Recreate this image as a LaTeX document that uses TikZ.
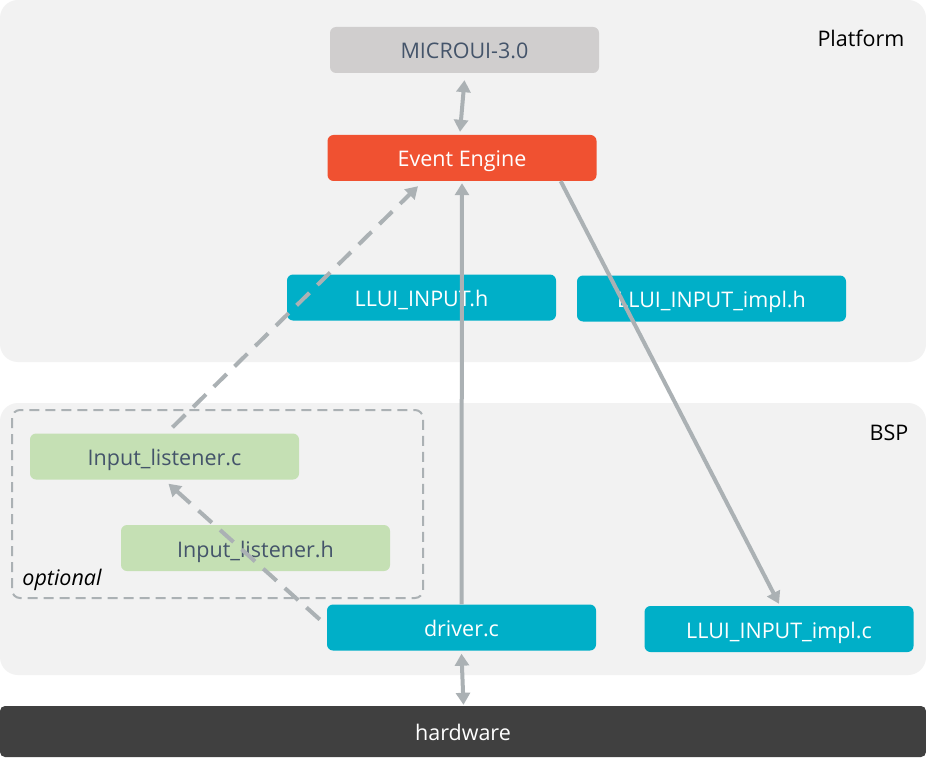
\documentclass[tikz,border=0pt]{standalone}
\usepackage{fontspec}
\setmainfont{Open Sans}
\usetikzlibrary{arrows.meta}
\definecolor{panelbg}{HTML}{F2F2F2}
\definecolor{arrgray}{HTML}{ABB1B4}
\definecolor{teal}{HTML}{00AFC8}
\definecolor{orng}{HTML}{F05131}
\definecolor{lgreen}{HTML}{C5E0B4}
\definecolor{lgray}{HTML}{D0CECE}
\definecolor{hwgray}{HTML}{404040}
\definecolor{slate}{HTML}{44546A}
\tikzset{
  x=1pt, y=-1pt,
  panel/.style={fill=panelbg, rounded corners=18pt, draw=none},
  box/.style={rectangle, rounded corners=6pt, minimum width=269pt, minimum height=46pt, inner sep=0pt, text height=19pt, text depth=1pt, font=\fontsize{21.5}{25}\selectfont},
  tealbox/.style={box, fill=teal, text=white},
  greenbox/.style={box, fill=lgreen, text=slate},
  arr/.style={draw=arrgray, line width=4pt, -{Triangle[length=12pt,width=14pt]}},
  darr/.style={draw=arrgray, line width=4pt, {Triangle[length=12pt,width=14pt]}-{Triangle[length=12pt,width=14pt]}},
  dasharr/.style={arr, dash pattern=on 18pt off 11pt},
  plabel/.style={font=\fontsize{21.5}{25}\selectfont, text=black, inner sep=0pt}
}
\begin{document}
\begin{tikzpicture}
\useasboundingbox (0,0) rectangle (926,762);
\fill[white] (0,0) rectangle (926,762);
% panels
\fill[panelbg, rounded corners=18pt] (0,0) rectangle (926,362);
\fill[panelbg, rounded corners=18pt] (0,403) rectangle (926,675);
\node[plabel] (plat) at (861,38) {Platform};
\node[plabel] (bsp) at (889,433) {BSP};
% optional dashed box
\draw[arrgray, line width=2pt, dash pattern=on 10pt off 6pt, rounded corners=8pt] (12,410) rectangle (423,598);
\node[plabel, font=\fontsize{21.5}{25}\selectfont\itshape] (opt) at (62,580) {optional};
% nodes
\node[box, fill=lgray, text=slate] (mui) at (464.5,50) {MICROUI-3.0};
\node[box, fill=orng, text=white] (ee) at (462,158) {Event Engine};
\node[tealbox] (llh) at (421.5,297.5) {LLUI\_INPUT.h};
\node[tealbox] (llih) at (711.5,298.5) {LLUI\_INPUT\_impl.h};
\node[greenbox] (ilc) at (164.5,456.5) {Input\_listener.c};
\node[greenbox] (ilh) at (255.5,548) {Input\_listener.h};
\node[tealbox] (drv) at (461.5,627.5) {driver.c};
\node[tealbox] (llic) at (779,629) {LLUI\_INPUT\_impl.c};
\node[rectangle, fill=hwgray, text=white, minimum width=926pt, minimum height=51pt, inner sep=0pt, rounded corners=5pt, text height=19pt, text depth=1pt, font=\fontsize{21.5}{25}\selectfont] (hw) at (463,731.5) {hardware};
% connectors
\draw[darr] ([yshift=-7pt]mui.south) -- ([xshift=-2pt,yshift=3pt]ee.north);
\draw[darr] ([yshift=-3pt]drv.south) -- ([xshift=0.5pt,yshift=1pt]hw.north);
\draw[arr] (drv.north) -- ([yshift=-2pt]ee.south);
\draw[arr] ([xshift=-36pt]ee.south east) -- ([yshift=2pt]llic.north);
\draw[dasharr] ([xshift=8pt,yshift=6pt]ilc.north) -- ([xshift=-44pt,yshift=-5pt]ee.south);
\draw[dasharr] ([xshift=-7pt,yshift=8pt]drv.west) -- ([xshift=4pt,yshift=-4pt]ilc.south);
\end{tikzpicture}
\end{document}
